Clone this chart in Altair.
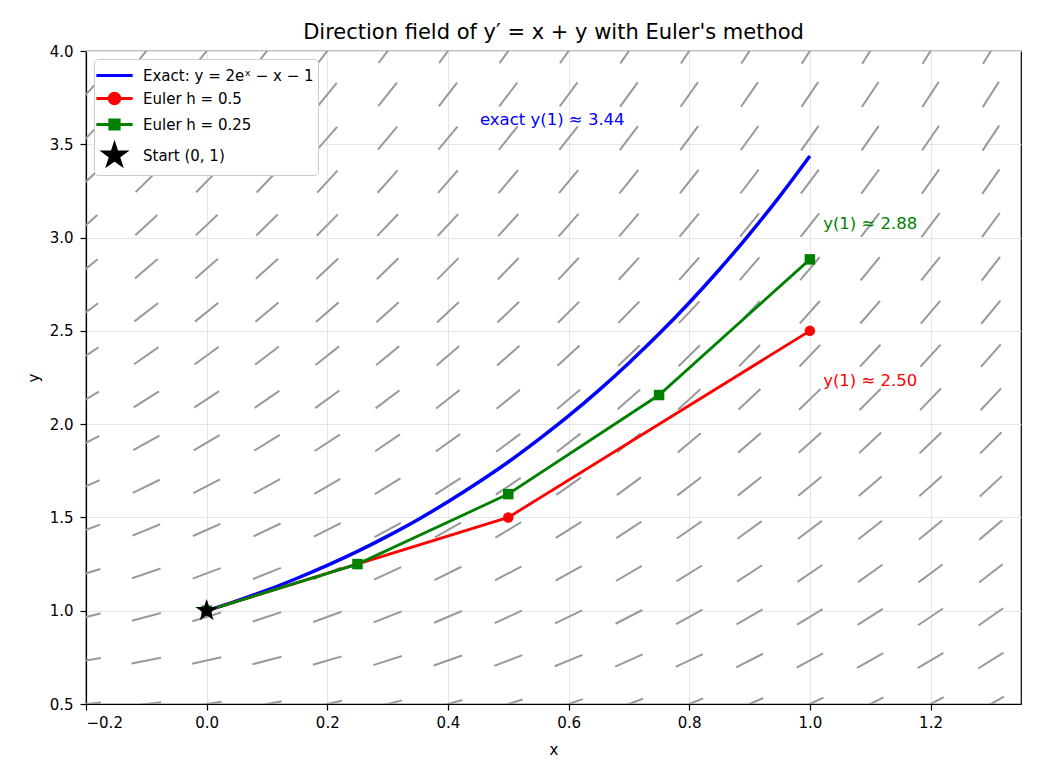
import math
import altair as alt
import pandas as pd

# ---------------- data ----------------
field_x = [-0.2, -0.1, 0.0, 0.1, 0.2, 0.3, 0.4, 0.5, 0.6, 0.7, 0.8, 0.9, 1.0, 1.1, 1.2, 1.3]
field_y = [0.5, 0.733, 0.967, 1.2, 1.433, 1.667, 1.9, 2.133, 2.367, 2.6,
           2.833, 3.067, 3.3, 3.533, 3.767, 4.0]

exact_x = [0.0, 0.05, 0.1, 0.15, 0.2, 0.25, 0.3, 0.35, 0.4, 0.45, 0.5,
           0.55, 0.6, 0.65, 0.7, 0.75, 0.8, 0.85, 0.9, 0.95, 1.0]
exact_y = [1.0, 1.053, 1.110, 1.174, 1.243, 1.318, 1.400, 1.488, 1.584, 1.687, 1.797,
           1.917, 2.044, 2.181, 2.328, 2.484, 2.651, 2.829, 3.019, 3.221, 3.437]

euler1_x = [0.0, 0.5, 1.0]
euler1_y = [1.0, 1.5, 2.5]
euler2_x = [0.0, 0.25, 0.5, 0.75, 1.0]
euler2_y = [1.0, 1.25, 1.625, 2.156, 2.883]

start_x = [0.0]
start_y = [1.0]

series_names = ["Exact: y = 2eˣ − x − 1", "Euler h = 0.5", "Euler h = 0.25", "Start (0, 1)"]
series_colors = ["#0000ff", "#ff0000", "#008000", "#000000"]

x_ticks = [-0.2, 0.0, 0.2, 0.4, 0.6, 0.8, 1.0, 1.2]
y_ticks = [0.5, 1.0, 1.5, 2.0, 2.5, 3.0, 3.5, 4.0]

annot_text = ["exact y(1) ≈ 3.44", "y(1) ≈ 2.88", "y(1) ≈ 2.50"]
annot_x = [0.453, 1.022, 1.022]
annot_y = [3.63, 3.075, 2.23]
annot_color = ["#0000ff", "#008000", "#ff0000"]

# ---------------- layout ----------------
X_MIN, X_MAX = -0.2, 1.35
Y_MIN, Y_MAX = 0.5, 4.0
W, H = 935, 653
FONT = "DejaVu Sans"

# direction field: segments of constant on-screen length centred on grid points
px_per_x = W / (X_MAX - X_MIN)
px_per_y = H / (Y_MAX - Y_MIN)
half_len = 15.0
rows = []
for gx in field_x:
    for gy in field_y:
        s = gx + gy  # slope y' = x + y
        dxp, dyp = 1.0, s * px_per_y / px_per_x
        n = math.hypot(dxp, dyp)
        dx = half_len * dxp / n / px_per_x
        dy = half_len * dyp / n / px_per_y
        rows.append({"x": gx - dx, "y": gy - dy, "x2": gx + dx, "y2": gy + dy})
field_df = pd.DataFrame(rows)

exact_df = pd.DataFrame({"x": exact_x, "y": exact_y})
e1_df = pd.DataFrame({"x": euler1_x, "y": euler1_y})
e2_df = pd.DataFrame({"x": euler2_x, "y": euler2_y})
start_df = pd.DataFrame({"x": start_x, "y": start_y})
annot_df = pd.DataFrame({"t": annot_text, "x": annot_x, "y": annot_y, "c": annot_color})


def star_path(R, ratio=0.382):
    pts = []
    for k in range(10):
        r = R if k % 2 == 0 else R * ratio
        a = math.radians(-90 + 36 * k)
        pts.append(f"{r*math.cos(a):.3f},{r*math.sin(a):.3f}")
    return "M" + "L".join(pts) + "Z"


def circle_path(r):
    return (f"M{-r:.3f},0A{r:.3f},{r:.3f},0,1,1,{r:.3f},0"
            f"A{r:.3f},{r:.3f},0,1,1,{-r:.3f},0Z")


def square_path(h):
    return f"M{-h:.3f},{-h:.3f}L{h:.3f},{-h:.3f}L{h:.3f},{h:.3f}L{-h:.3f},{h:.3f}Z"


LINE = "M-1.65,0L1.65,0"
legend_shapes = [
    LINE,
    LINE + circle_path(0.48),
    LINE + square_path(0.42),
    star_path(1.0),
]

xs = alt.Scale(domain=[X_MIN, X_MAX], nice=False, zero=False)
ys = alt.Scale(domain=[Y_MIN, Y_MAX], nice=False, zero=False)

x_axis = alt.Axis(values=x_ticks, format=".1f", title="x", titlePadding=12, labelPadding=5)
y_axis = alt.Axis(values=y_ticks, format=".1f", title="y", titlePadding=8, labelPadding=7)


def X():
    return alt.X("x:Q", scale=xs, axis=x_axis)


def Y():
    return alt.Y("y:Q", scale=ys, axis=y_axis)


field = alt.Chart(field_df).mark_rule(color="#999999", strokeWidth=2, clip=True).encode(
    x=X(), y=Y(), x2="x2:Q", y2="y2:Q",
)

exact = alt.Chart(exact_df).mark_line(color="#0000ff", strokeWidth=3.5, interpolate="monotone").encode(
    x=X(), y=Y())

e1_line = alt.Chart(e1_df).mark_line(color="#ff0000", strokeWidth=2.8).encode(x=X(), y=Y())
e1_pts = alt.Chart(e1_df).mark_point(filled=True, color="#ff0000", shape="circle", size=110, opacity=1).encode(
    x=X(), y=Y())

e2_line = alt.Chart(e2_df).mark_line(color="#008000", strokeWidth=2.8).encode(x=X(), y=Y())
e2_pts = alt.Chart(e2_df).mark_point(filled=True, color="#008000", shape="square", size=110, opacity=1).encode(
    x=X(), y=Y())

start = alt.Chart(start_df).mark_point(filled=True, color="black", shape=star_path(1.0), size=560, opacity=1).encode(
    x=X(), y=Y())

annots = alt.Chart(annot_df).mark_text(align="left", baseline="middle", fontSize=16.5, font=FONT).encode(
    x=X(), y=Y(),
    text="t:N", color=alt.Color("c:N", scale=None, legend=None))

# legend-only layer (no rows survive the filter; the legend is built from the scale domain)
leg = alt.Legend(title=None, orient="top-left", offset=8, labelLimit=400)
legend_df = pd.DataFrame({"series": series_names, "x": [0.0] * 4, "y": [1.0] * 4})
legend_layer = alt.Chart(legend_df).transform_filter("false").mark_point(
    filled=True, strokeWidth=3, opacity=1).encode(
    x=X(), y=Y(),
    fill=alt.Fill("series:N", scale=alt.Scale(domain=series_names, range=series_colors), legend=leg),
    stroke=alt.Stroke("series:N", scale=alt.Scale(domain=series_names, range=series_colors), legend=leg),
    shape=alt.Shape("series:N", scale=alt.Scale(domain=series_names, range=legend_shapes), legend=leg),
)

chart = alt.layer(field, exact, e1_line, e2_line, e1_pts, e2_pts, start, annots, legend_layer).properties(
    width=W, height=H,
    title=alt.Title("Direction field of y′ = x + y with Euler's method", fontSize=21, font=FONT,
                    fontWeight="normal", color="black", offset=1),
    padding={"left": 86, "top": 51, "right": 19, "bottom": 76},
    autosize="none",
).configure(font=FONT).configure_view(stroke="black", strokeWidth=1.2).configure_axis(
    grid=True, gridColor="#e6e6e6", gridWidth=1,
    tickColor="black", domainColor="black", tickSize=6, domainWidth=1.2, tickWidth=1.2,
    labelFontSize=15, titleFontSize=15, labelFont=FONT, titleFont=FONT,
    labelColor="black", titleColor="black", titleFontWeight="normal",
).configure_legend(
    orient="top-left", offset=8, fillColor="white", strokeColor="#cccccc", cornerRadius=4,
    padding=4, symbolSize=484, symbolOffset=4, labelOffset=16, rowPadding=2, labelLimit=400,
    labelFontSize=15, labelFont=FONT, labelColor="black", symbolStrokeWidth=3,
)

chart.save("out.html", embed_options={"renderer": "svg", "actions": False})
